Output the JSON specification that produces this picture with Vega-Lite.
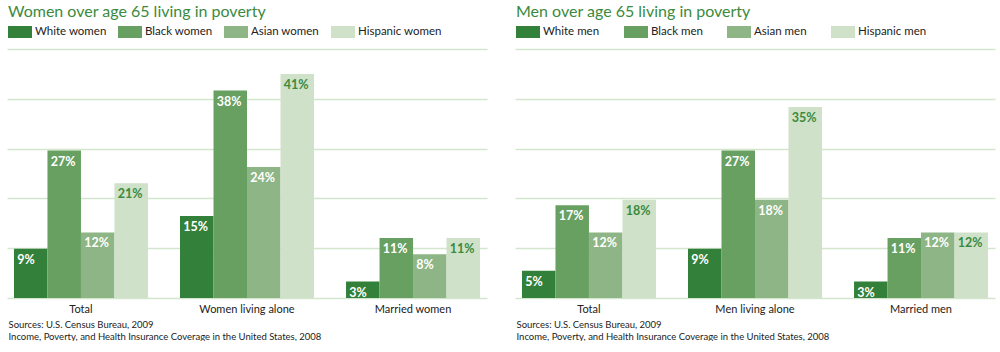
{
  "$schema": "https://vega.github.io/schema/vega-lite/v6.json",
  "padding": {"left": 7, "top": 4, "right": 5, "bottom": 0},
  "background": "white",
  "config": {"font": "Lato", "view": {"stroke": null}, "concat": {"spacing": 28}},
  "datasets": {
    "women": [
      {"group": "Total", "race": "White women", "pct": 0.09},
      {"group": "Total", "race": "Black women", "pct": 0.27},
      {"group": "Total", "race": "Asian women", "pct": 0.12},
      {"group": "Total", "race": "Hispanic women", "pct": 0.21},
      {"group": "Women living alone", "race": "White women", "pct": 0.15},
      {"group": "Women living alone", "race": "Black women", "pct": 0.38},
      {"group": "Women living alone", "race": "Asian women", "pct": 0.24},
      {"group": "Women living alone", "race": "Hispanic women", "pct": 0.41},
      {"group": "Married women", "race": "White women", "pct": 0.03},
      {"group": "Married women", "race": "Black women", "pct": 0.11},
      {"group": "Married women", "race": "Asian women", "pct": 0.08},
      {"group": "Married women", "race": "Hispanic women", "pct": 0.11}
    ],
    "men": [
      {"group": "Total", "race": "White men", "pct": 0.05},
      {"group": "Total", "race": "Black men", "pct": 0.17},
      {"group": "Total", "race": "Asian men", "pct": 0.12},
      {"group": "Total", "race": "Hispanic men", "pct": 0.18},
      {"group": "Men living alone", "race": "White men", "pct": 0.09},
      {"group": "Men living alone", "race": "Black men", "pct": 0.27},
      {"group": "Men living alone", "race": "Asian men", "pct": 0.18},
      {"group": "Men living alone", "race": "Hispanic men", "pct": 0.35},
      {"group": "Married men", "race": "White men", "pct": 0.03},
      {"group": "Married men", "race": "Black men", "pct": 0.11},
      {"group": "Married men", "race": "Asian men", "pct": 0.12},
      {"group": "Married men", "race": "Hispanic men", "pct": 0.12}
    ]
  },
  "resolve": {"scale": {"color": "independent", "x": "independent", "xOffset": "independent", "y": "independent"}, "legend": {"color": "independent"}},
  "hconcat": [
    {
      "width": 480, "height": 249,
      "data": {"name": "women"},
      "title": {"text": "Women over age 65 living in poverty", "anchor": "start", "frame": "group", "fontSize": 16, "fontWeight": "normal", "color": "#3b8a3e", "offset": 0, "dx": 1},
      "encoding": {
        "x": {"field": "group", "type": "nominal", "sort": ["Total", "Women living alone", "Married women"],
          "scale": {"paddingInner": 0.193, "paddingOuter": 0.042},
          "axis": {"title": ["Sources: U.S. Census Bureau, 2009", "Income, Poverty, and Health Insurance Coverage in the United States, 2008"],
            "titleX": 1, "titleY": 21, "titleAlign": "left", "titleBaseline": "top", "titleFontSize": 9.5, "titleFontWeight": "normal", "titleColor": "#222", "titleLineHeight": 12,
            "labelAngle": 0, "labelFontSize": 11, "labelColor": "#222", "labelPadding": 5, "ticks": false, "domain": false}},
        "xOffset": {"field": "race", "type": "nominal", "sort": ["White women", "Black women", "Asian women", "Hispanic women"], "scale": {"paddingInner": 0, "paddingOuter": 0}},
        "y": {"field": "pct", "type": "quantitative", "scale": {"domain": [0, 0.456], "nice": false},
          "axis": {"title": null, "labels": false, "ticks": false, "domain": false, "grid": true, "gridColor": "#d3e5cd", "gridWidth": 1.5, "values": [0, 0.0912, 0.1824, 0.2736, 0.3648, 0.456]}}
      },
      "layer": [
        {"mark": {"type": "bar"},
          "encoding": {"color": {"field": "race", "type": "nominal", "sort": ["White women", "Black women", "Asian women", "Hispanic women"],
            "scale": {"range": ["#33803a", "#68a062", "#8db585", "#cfe1c8"]},
            "legend": {"orient": "none", "legendX": 1, "legendY": -29, "direction": "horizontal", "title": null, "symbolType": "M-1,-0.5H1V0.5H-1Z", "symbolSize": 576, "symbolStrokeWidth": 0, "symbolOpacity": 1, "labelFontSize": 11.5, "labelColor": "#222", "columnPadding": 11, "labelOffset": 3}}}},
        {"mark": {"type": "text", "align": "left", "baseline": "top", "dx": -13.5, "dy": 5, "fontWeight": "bold", "fontSize": 12.5},
          "encoding": {"text": {"field": "pct", "type": "quantitative", "format": ".0%"},
            "color": {"condition": {"test": "indexof(datum.race, 'Hispanic') >= 0", "value": "#3b8a3e"}, "value": "white"}}}
      ]
    },
    {
      "width": 480, "height": 249,
      "data": {"name": "men"},
      "title": {"text": "Men over age 65 living in poverty", "anchor": "start", "frame": "group", "fontSize": 16, "fontWeight": "normal", "color": "#3b8a3e", "offset": 0, "dx": 1},
      "encoding": {
        "x": {"field": "group", "type": "nominal", "sort": ["Total", "Men living alone", "Married men"],
          "scale": {"paddingInner": 0.193, "paddingOuter": 0.042},
          "axis": {"title": ["Sources: U.S. Census Bureau, 2009", "Income, Poverty, and Health Insurance Coverage in the United States, 2008"],
            "titleX": 1, "titleY": 21, "titleAlign": "left", "titleBaseline": "top", "titleFontSize": 9.5, "titleFontWeight": "normal", "titleColor": "#222", "titleLineHeight": 12,
            "labelAngle": 0, "labelFontSize": 11, "labelColor": "#222", "labelPadding": 5, "ticks": false, "domain": false}},
        "xOffset": {"field": "race", "type": "nominal", "sort": ["White men", "Black men", "Asian men", "Hispanic men"], "scale": {"paddingInner": 0, "paddingOuter": 0}},
        "y": {"field": "pct", "type": "quantitative", "scale": {"domain": [0, 0.456], "nice": false},
          "axis": {"title": null, "labels": false, "ticks": false, "domain": false, "grid": true, "gridColor": "#d3e5cd", "gridWidth": 1.5, "values": [0, 0.0912, 0.1824, 0.2736, 0.3648, 0.456]}}
      },
      "layer": [
        {"mark": {"type": "bar"},
          "encoding": {"color": {"field": "race", "type": "nominal", "sort": ["White men", "Black men", "Asian men", "Hispanic men"],
            "scale": {"range": ["#33803a", "#68a062", "#8db585", "#cfe1c8"]},
            "legend": {"orient": "none", "legendX": 1, "legendY": -29, "direction": "horizontal", "title": null, "symbolType": "M-1,-0.5H1V0.5H-1Z", "symbolSize": 576, "symbolStrokeWidth": 0, "symbolOpacity": 1, "labelFontSize": 11.5, "labelColor": "#222", "columnPadding": 24, "labelOffset": 3}}}},
        {"mark": {"type": "text", "align": "left", "baseline": "top", "dx": -13.5, "dy": 5, "fontWeight": "bold", "fontSize": 12.5},
          "encoding": {"text": {"field": "pct", "type": "quantitative", "format": ".0%"},
            "color": {"condition": {"test": "indexof(datum.race, 'Hispanic') >= 0", "value": "#3b8a3e"}, "value": "white"}}}
      ]
    }
  ]
}
